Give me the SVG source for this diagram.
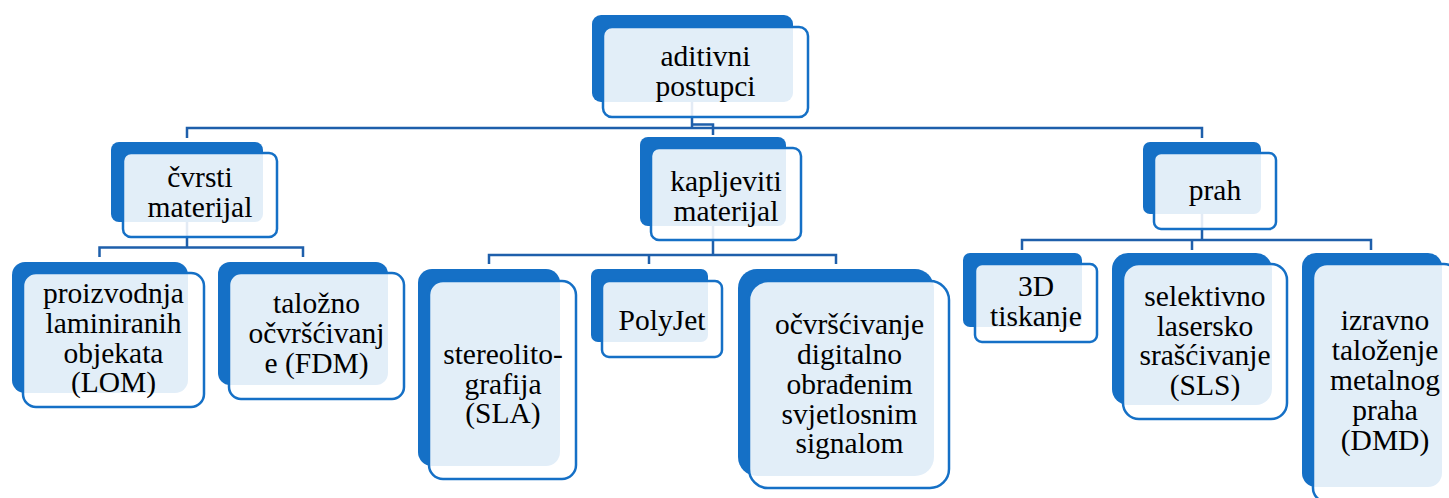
<svg xmlns="http://www.w3.org/2000/svg" width="1449" height="498" viewBox="0 0 1449 498">
<style>
.bk{fill:#1570C6;}
.fr{fill:#FFFFFF;fill-opacity:0.88;stroke:#1570C6;stroke-width:2.5;}
.cn{fill:none;stroke:#1E5FAB;stroke-width:2.5;}
.t{font-family:'Liberation Serif','Times New Roman',serif;font-size:29.5px;fill:#000;text-anchor:middle;}
</style>
<rect width="1449" height="498" fill="#FFFFFF"/>
<g id="connectors">
<path class="cn" d="M692,102 V128 M187,138 V128 H1202 V138 M692,124.5 H713 V135"/>
<path class="cn" d="M187,222 V247.5 M99.5,257 V247.5 H303 V257"/>
<path class="cn" d="M713,226 V255 M489,264 V255 H836 V264 M649,255 V264"/>
<path class="cn" d="M1202,214 V240 M1022,250 V240 H1371 V250 M1192,240 V250"/>
</g>
<g id="n-aditivni">
<rect class="bk" x="592" y="15" width="201" height="87" rx="9"/>
<rect class="fr" x="603" y="27" width="205" height="90" rx="9"/>
<text class="t" x="705.5" y="66">aditivni</text><text class="t" x="705.5" y="95.5">postupci</text>
</g>
<g id="n-cvrsti">
<rect class="bk" x="111" y="142" width="152" height="80" rx="8"/>
<rect class="fr" x="123" y="153" width="154" height="84" rx="8"/>
<text class="t" x="200" y="187">čvrsti</text><text class="t" x="200" y="216.5">materijal</text>
</g>
<g id="n-kapljeviti">
<rect class="bk" x="640" y="137" width="146" height="89" rx="8"/>
<rect class="fr" x="651" y="148" width="150" height="92" rx="8"/>
<text class="t" x="726" y="191">kapljeviti</text><text class="t" x="726" y="220.5">materijal</text>
</g>
<g id="n-prah">
<rect class="bk" x="1143" y="142" width="118" height="72" rx="7"/>
<rect class="fr" x="1154" y="153" width="122" height="76" rx="7"/>
<text class="t" x="1215" y="200">prah</text>
</g>
<g id="n-lom">
<rect class="bk" x="12" y="262" width="176" height="131" rx="13"/>
<rect class="fr" x="23" y="273" width="181" height="134" rx="13"/>
<text class="t" x="113.5" y="303">proizvodnja</text><text class="t" x="113.5" y="333">laminiranih</text><text class="t" x="113.5" y="362.5">objekata</text><text class="t" x="113.5" y="392">(LOM)</text>
</g>
<g id="n-fdm">
<rect class="bk" x="218" y="262" width="170" height="123" rx="12"/>
<rect class="fr" x="229" y="273" width="175" height="126" rx="12"/>
<text class="t" x="316.5" y="313">taložno</text><text class="t" x="316.5" y="343">očvršćivanj</text><text class="t" x="316.5" y="373">e (FDM)</text>
</g>
<g id="n-sla">
<rect class="bk" x="418" y="269" width="142" height="197" rx="14"/>
<rect class="fr" x="429" y="281" width="147" height="198" rx="14"/>
<text class="t" x="503" y="364">stereolito-</text><text class="t" x="503" y="394">grafija</text><text class="t" x="503" y="423">(SLA)</text>
</g>
<g id="n-polyjet">
<rect class="bk" x="591" y="269" width="117" height="73" rx="7"/>
<rect class="fr" x="602" y="281" width="120" height="76" rx="7"/>
<text class="t" x="662" y="330">PolyJet</text>
</g>
<g id="n-ocvr">
<rect class="bk" x="738" y="269" width="196" height="207" rx="19"/>
<rect class="fr" x="749" y="281" width="200" height="207" rx="19"/>
<text class="t" x="849.5" y="334">očvršćivanje</text><text class="t" x="849.5" y="364">digitalno</text><text class="t" x="849.5" y="394">obrađenim</text><text class="t" x="849.5" y="423.5">svjetlosnim</text><text class="t" x="849.5" y="453">signalom</text>
</g>
<g id="n-3d">
<rect class="bk" x="963" y="253" width="119" height="74" rx="7"/>
<rect class="fr" x="975" y="264" width="122" height="78" rx="7"/>
<text class="t" x="1036" y="296">3D</text><text class="t" x="1036" y="325.5">tiskanje</text>
</g>
<g id="n-sls">
<rect class="bk" x="1112" y="253" width="160" height="152" rx="16"/>
<rect class="fr" x="1123" y="264" width="164" height="155" rx="16"/>
<text class="t" x="1205" y="306">selektivno</text><text class="t" x="1205" y="335.5">lasersko</text><text class="t" x="1205" y="365">srašćivanje</text><text class="t" x="1205" y="395">(SLS)</text>
</g>
<g id="n-dmd">
<rect class="bk" x="1302" y="253" width="140" height="234" rx="14"/>
<rect class="fr" x="1313" y="264" width="145" height="238" rx="14"/>
<text class="t" x="1385" y="330">izravno</text><text class="t" x="1385" y="360">taloženje</text><text class="t" x="1385" y="390">metalnog</text><text class="t" x="1385" y="420">praha</text><text class="t" x="1385" y="450">(DMD)</text>
</g>
</svg>
